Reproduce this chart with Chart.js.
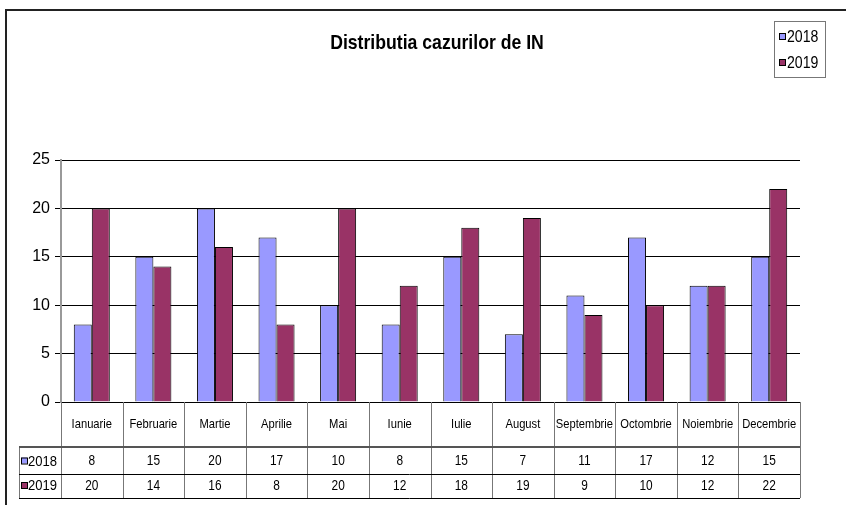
<!DOCTYPE html>
<html>
<head>
<meta charset="utf-8">
<script src="https://cdn.jsdelivr.net/npm/chart.js@4/dist/chart.umd.min.js"></script>
<style>
    body { margin: 0; background: #fff; }
    #chart1 { display: block; }
</style>
</head>
<body>
<canvas id="chart1" width="847" height="505"></canvas>
<script>
const months = ['Ianuarie', 'Februarie', 'Martie', 'Aprilie', 'Mai', 'Iunie', 'Iulie', 'August', 'Septembrie', 'Octombrie', 'Noiembrie', 'Decembrie'];
const cases2018 = [8, 15, 20, 17, 10, 8, 15, 7, 11, 17, 12, 15];
const cases2019 = [20, 14, 16, 8, 20, 12, 18, 19, 9, 10, 12, 22];
const yTicks = [0, 5, 10, 15, 20, 25];
const chartTitle = 'Distributia cazurilor de IN';

const fontFam = '"Liberation Sans", Arial, sans-serif';

// no Arial Narrow here, so squeeze Liberation Sans sideways
function narrowText(ctx, text, x, y, font, align, sx) {
    ctx.save();
    ctx.font = font;
    ctx.textAlign = align;
    ctx.textBaseline = 'middle';
    ctx.translate(x, y);
    ctx.scale(sx, 1);
    ctx.fillText(text, 0, 0);
    ctx.restore();
}

function swatch(ctx, color, x, y) {
    ctx.fillStyle = color;
    ctx.fillRect(x, y, 6, 6);
    ctx.strokeStyle = '#000';
    ctx.lineWidth = 1;
    ctx.strokeRect(x + 0.5, y + 0.5, 6, 6);
}

// frame, title, legend box and the data table under the axis
const excelParts = {
    id: 'excelParts',
    afterDraw(chart) {
        const ctx = chart.ctx;
        const area = chart.chartArea;
        const x = chart.scales.x;
        const sets = chart.data.datasets;
        ctx.save();

        // outer frame
        ctx.strokeStyle = '#222';
        ctx.lineWidth = 2;
        ctx.beginPath();
        ctx.moveTo(6, 505);
        ctx.lineTo(6, 10);
        ctx.lineTo(846, 10);
        ctx.stroke();

        ctx.fillStyle = '#000';
        narrowText(ctx, chartTitle, 437, 43, 'bold 21px ' + fontFam, 'center', 0.84);

        // legend box
        ctx.strokeStyle = '#777';
        ctx.lineWidth = 1;
        ctx.strokeRect(774.5, 21.5, 51, 56);
        sets.forEach((ds, i) => {
            const cy = 37 + i * 26;
            swatch(ctx, ds.backgroundColor, 779, cy - 4);
            ctx.fillStyle = '#000';
            narrowText(ctx, ds.label, 787, cy, '17px ' + fontFam, 'left', 0.83);
        });

        // data table
        const colW = area.width / chart.data.labels.length;
        const top = area.bottom;
        const r1 = 447, r2 = 474, r3 = 498;
        const tableLeft = 19;

        ctx.strokeStyle = '#777';
        ctx.lineWidth = 1;
        ctx.beginPath();
        for (let i = 0; i <= chart.data.labels.length; i++) {
            const lx = Math.round(area.left + i * colW) + 0.5;
            ctx.moveTo(lx, top);
            ctx.lineTo(lx, r3);
        }
        ctx.moveTo(tableLeft + 0.5, r1);
        ctx.lineTo(tableLeft + 0.5, r3);
        ctx.stroke();

        ctx.strokeStyle = '#555';
        ctx.lineWidth = 2;
        ctx.beginPath();
        ctx.moveTo(tableLeft, r1);
        ctx.lineTo(area.right, r1);
        ctx.stroke();
        ctx.strokeStyle = '#000';
        ctx.lineWidth = 1;
        ctx.beginPath();
        ctx.moveTo(tableLeft, r2 + 0.5);
        ctx.lineTo(area.right, r2 + 0.5);
        ctx.moveTo(tableLeft, r3 + 0.5);
        ctx.lineTo(area.right, r3 + 0.5);
        ctx.stroke();

        ctx.fillStyle = '#000';
        chart.data.labels.forEach((lab, i) => {
            narrowText(ctx, lab, x.getPixelForValue(i), (top + r1) / 2, '13px ' + fontFam, 'center', 0.86);
        });

        sets.forEach((ds, s) => {
            const cy = s === 0 ? (r1 + r2) / 2 + 1 : (r2 + r3) / 2;
            ds.data.forEach((v, i) => {
                ctx.fillStyle = '#000';
                narrowText(ctx, String(v), x.getPixelForValue(i), cy, '14px ' + fontFam, 'center', 0.85);
            });
            swatch(ctx, ds.backgroundColor, 21, cy - 4);
            ctx.fillStyle = '#000';
            narrowText(ctx, ds.label, 28, cy, '15px ' + fontFam, 'left', 0.87);
        });

        ctx.restore();
    }
};

new Chart(document.querySelector('#chart1').getContext('2d'), {
    type: 'bar',
    data: {
        labels: months,
        datasets: [{
            label: '2018',
            data: cases2018,
            backgroundColor: '#9999FF',
            borderColor: '#000',
            borderWidth: 1
        }, {
            label: '2019',
            data: cases2019,
            backgroundColor: '#993366',
            borderColor: '#000',
            borderWidth: 1
        }]
    },
    options: {
        responsive: false,
        animation: false,
        categoryPercentage: 0.585,
        barPercentage: 1,
        layout: {
            padding: { left: 0, top: 160, right: 47, bottom: 103 }
        },
        plugins: {
            legend: { display: false },
            title: { display: false },
            tooltip: { enabled: false }
        },
        scales: {
            x: {
                ticks: { display: false },
                grid: { display: false },
                border: { display: true, color: '#000', width: 1 },
                afterFit: scale => { scale.height = 0; }
            },
            y: {
                min: yTicks[0],
                max: yTicks[yTicks.length - 1],
                afterBuildTicks: scale => { scale.ticks = yTicks.map(v => ({ value: v })); },
                ticks: {
                    color: '#000',
                    padding: 5,
                    font: { family: fontFam, size: 16 }
                },
                grid: { color: '#000', tickLength: 6, drawTicks: true },
                border: { color: '#999', width: 2 },
                afterFit: scale => { scale.width = 61; }
            }
        }
    },
    plugins: [excelParts]
});
</script>
</body>
</html>
